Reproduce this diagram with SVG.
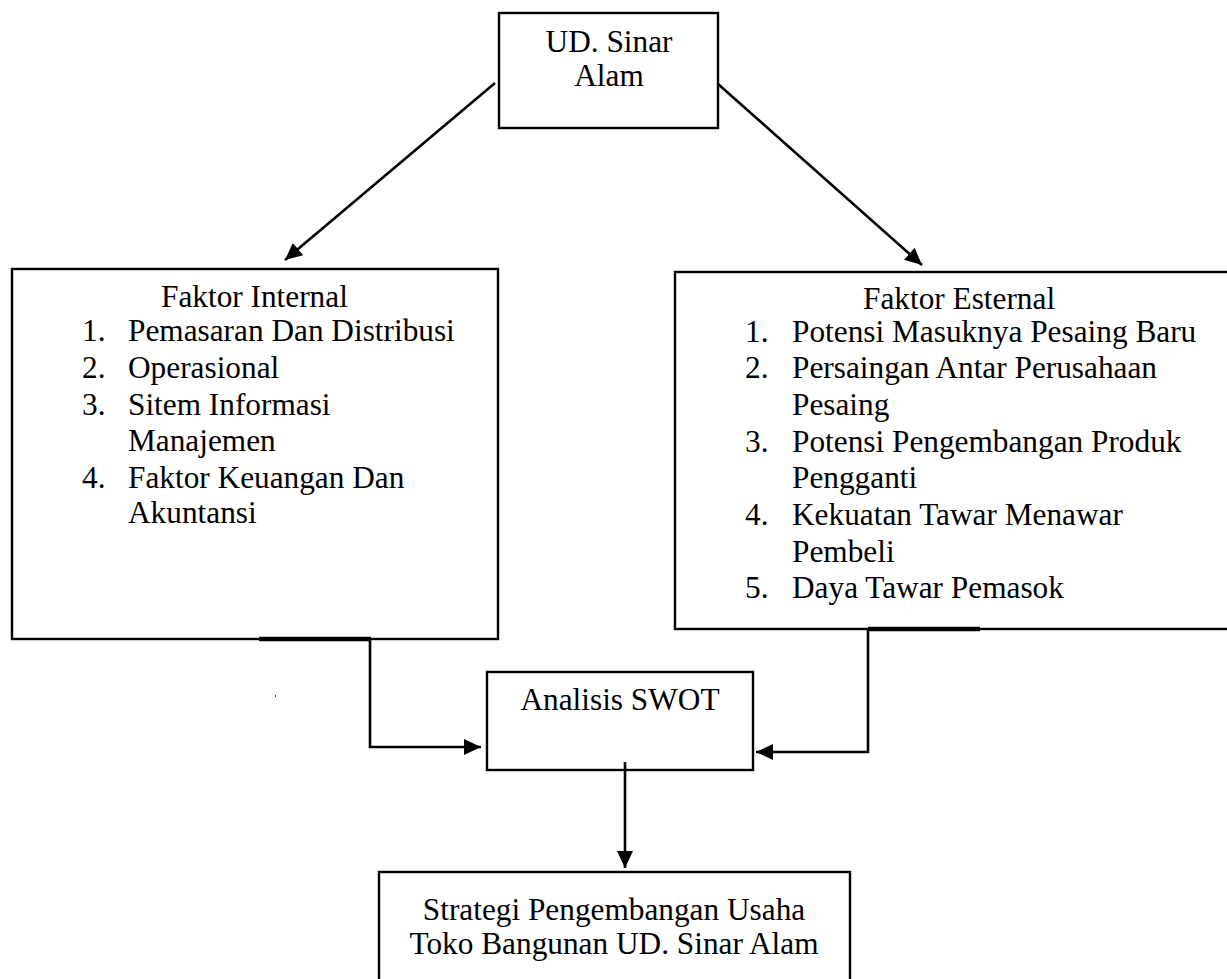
<svg xmlns="http://www.w3.org/2000/svg" width="1227" height="979" viewBox="0 0 1227 979">
<style>
.box{fill:#fff;stroke:#000;stroke-width:2.4}
.t{font-family:'Liberation Serif','DejaVu Serif',serif;font-size:31.3px;fill:#000}
.c{text-anchor:middle}
.ln{fill:none;stroke:#000;stroke-width:2.6}
.thick{stroke:#000;stroke-width:4.5}
</style>
<defs>
<marker id="ah" viewBox="0 0 17 16" refX="17" refY="8" markerWidth="17" markerHeight="16" markerUnits="userSpaceOnUse" orient="auto">
<path d="M0,0 L17,8 L0,16 z" fill="#000"/>
</marker>
</defs>
<rect width="1227" height="979" fill="#fff"/>
<g id="node-ud">
<rect class="box" x="499" y="13" width="219" height="115"/>
<text class="t c" x="609" y="52">UD. Sinar</text>
<text class="t c" x="609" y="86">Alam</text>
</g>
<g id="node-internal">
<rect class="box" x="12" y="269" width="486" height="370"/>
<line class="thick" x1="259" y1="639" x2="371" y2="639"/>
<text class="t" x="161" y="307">Faktor Internal</text>
<text class="t" x="82" y="341">1.</text><text class="t" x="128" y="341">Pemasaran Dan Distribusi</text>
<text class="t" x="82" y="378">2.</text><text class="t" x="128" y="378">Operasional</text>
<text class="t" x="82" y="415">3.</text><text class="t" x="128" y="415">Sitem Informasi</text>
<text class="t" x="128" y="451">Manajemen</text>
<text class="t" x="82" y="488">4.</text><text class="t" x="128" y="488">Faktor Keuangan Dan</text>
<text class="t" x="128" y="523">Akuntansi</text>
</g>
<g id="node-external">
<rect class="box" x="675" y="272" width="580" height="357"/>
<line class="thick" x1="868" y1="629" x2="980" y2="629"/>
<text class="t" x="863" y="309">Faktor Esternal</text>
<text class="t" x="745" y="342">1.</text><text class="t" x="792" y="342">Potensi Masuknya Pesaing Baru</text>
<text class="t" x="745" y="378">2.</text><text class="t" x="792" y="378">Persaingan Antar Perusahaan</text>
<text class="t" x="792" y="415">Pesaing</text>
<text class="t" x="745" y="452">3.</text><text class="t" x="792" y="452">Potensi Pengembangan Produk</text>
<text class="t" x="792" y="488">Pengganti</text>
<text class="t" x="745" y="525">4.</text><text class="t" x="792" y="525">Kekuatan Tawar Menawar</text>
<text class="t" x="792" y="562">Pembeli</text>
<text class="t" x="745" y="598">5.</text><text class="t" x="792" y="598">Daya Tawar Pemasok</text>
</g>
<g id="node-swot">
<rect class="box" x="487" y="672" width="266" height="98"/>
<text class="t c" x="620" y="710">Analisis SWOT</text>
</g>
<g id="node-strategi">
<rect class="box" x="379" y="872" width="471" height="130"/>
<text class="t c" x="614" y="920">Strategi Pengembangan Usaha</text>
<text class="t c" x="614" y="954">Toko Bangunan UD. Sinar Alam</text>
</g>
<g id="connectors">
<path class="ln" d="M495,83 L285,260" marker-end="url(#ah)"/>
<path class="ln" d="M718,84 L922,265" marker-end="url(#ah)"/>
<path class="ln" d="M370,639 V747 H481" marker-end="url(#ah)"/>
<path class="ln" d="M868,629 V752 H756" marker-end="url(#ah)"/>
<path class="ln" d="M625,762 V868" marker-end="url(#ah)"/>
</g>
<rect x="275" y="695" width="1" height="2" fill="#555"/>
</svg>
